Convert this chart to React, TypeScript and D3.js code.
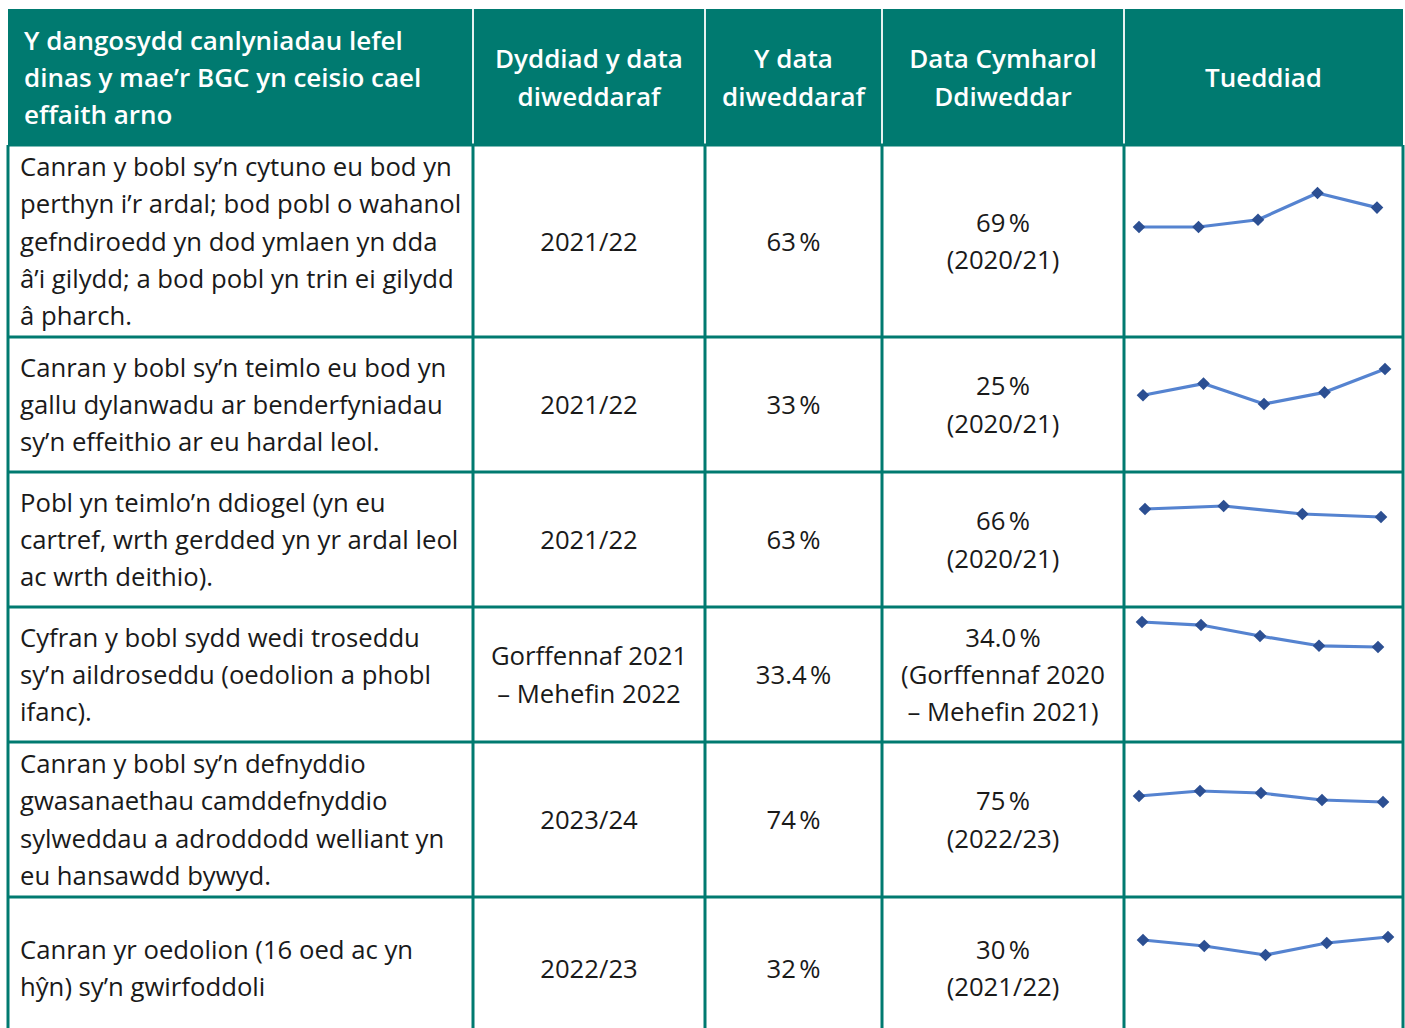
import React, { useEffect, useRef } from "react";
import * as d3 from "d3";

// table content
const headers = [
  ["Y dangosydd canlyniadau lefel", "dinas y mae’r BGC yn ceisio cael", "effaith arno"],
  ["Dyddiad y data", "diweddaraf"],
  ["Y data", "diweddaraf"],
  ["Data Cymharol", "Ddiweddar"],
  ["Tueddiad"],
];

const indicators = [
  [
    "Canran y bobl sy’n cytuno eu bod yn",
    "perthyn i’r ardal; bod pobl o wahanol",
    "gefndiroedd yn dod ymlaen yn dda",
    "â’i gilydd; a bod pobl yn trin ei gilydd",
    "â pharch.",
  ],
  [
    "Canran y bobl sy’n teimlo eu bod yn",
    "gallu dylanwadu ar benderfyniadau",
    "sy’n effeithio ar eu hardal leol.",
  ],
  [
    "Pobl yn teimlo’n ddiogel (yn eu",
    "cartref, wrth gerdded yn yr ardal leol",
    "ac wrth deithio).",
  ],
  [
    "Cyfran y bobl sydd wedi troseddu",
    "sy’n aildroseddu (oedolion a phobl",
    "ifanc).",
  ],
  [
    "Canran y bobl sy’n defnyddio",
    "gwasanaethau camddefnyddio",
    "sylweddau a adroddodd welliant yn",
    "eu hansawdd bywyd.",
  ],
  ["Canran yr oedolion (16 oed ac yn", "hŷn) sy’n gwirfoddoli"],
];

const latestDates = [
  ["2021/22"],
  ["2021/22"],
  ["2021/22"],
  ["Gorffennaf  2021", "– Mehefin 2022"],
  ["2023/24"],
  ["2022/23"],
];

const latestValues = ["63\u202F%", "33\u202F%", "63\u202F%", "33.4\u202F%", "74\u202F%", "32\u202F%"];

const comparators = [
  ["69\u202F%", "(2020/21)"],
  ["25\u202F%", "(2020/21)"],
  ["66\u202F%", "(2020/21)"],
  ["34.0\u202F%", "(Gorffennaf 2020", "– Mehefin 2021)"],
  ["75\u202F%", "(2022/23)"],
  ["30\u202F%", "(2021/22)"],
];

// sparkline values
const trend1 = [55, 55, 58, 69, 63];
const trend2 = [24, 28, 21, 25, 33];
const trend3 = [71, 74, 66, 63];
const trend4 = [37.5, 37.0, 35.2, 33.6, 33.4];
const trend5 = [77, 79.5, 78.5, 75, 74];
const trend6 = [31, 29, 26, 30, 32];
const trends = [trend1, trend2, trend3, trend4, trend5, trend6];

// layout
const colX = [8, 473, 705, 882, 1124, 1403];
const rowY = [9, 145, 337, 472, 607, 742, 897, 1040];
// sparkline placement inside its cell: [x0, x1] and [yLow, yHigh] relative to the cell
const sparkX = [[15, 253], [19, 261], [21, 257], [18, 254], [15, 259], [19, 264]];
const sparkY = [[82, 48], [67, 32], [45, 34], [40, 15], [60, 49], [58, 40]];

const TEAL = "#007a70";
const LINE_H = 37.3;
const FONT = "'Open Sans', 'Noto Sans', sans-serif";

const App = () => {
  const svgRef = useRef(null);

  useEffect(() => {
    const svg = d3.select(svgRef.current);
    svg.selectAll("*").remove();

    // header background
    svg
      .append("rect")
      .attr("x", colX[0])
      .attr("y", rowY[0])
      .attr("width", colX[5] - colX[0])
      .attr("height", rowY[1] - rowY[0])
      .attr("fill", TEAL);

    // header separators (light)
    colX.slice(1, 5).forEach((x) => {
      svg
        .append("line")
        .attr("x1", x)
        .attr("x2", x)
        .attr("y1", rowY[0])
        .attr("y2", rowY[1])
        .attr("stroke", "#e6f2f0")
        .attr("stroke-width", 2);
    });

    // body grid lines
    const grid = svg.append("g").attr("stroke", TEAL).attr("stroke-width", 3);
    rowY.slice(1, 7).forEach((y) => {
      grid.append("line").attr("x1", colX[0]).attr("x2", colX[5]).attr("y1", y).attr("y2", y);
    });
    colX.forEach((x) => {
      grid.append("line").attr("x1", x).attr("x2", x).attr("y1", rowY[1]).attr("y2", rowY[7]);
    });

    // helper for multi-line text, vertically centred in a cell
    const drawLines = (lines, x, yTop, yBottom, anchor, color, weight, size) => {
      const cy = (yTop + yBottom) / 2;
      const start = cy - ((lines.length - 1) * LINE_H) / 2;
      const t = svg
        .append("text")
        .attr("text-anchor", anchor)
        .attr("font-family", FONT)
        .attr("font-size", size)
        .attr("font-weight", weight)
        .attr("fill", color);
      lines.forEach((l, i) => {
        t.append("tspan")
          .attr("x", x)
          .attr("y", start + i * LINE_H)
          .attr("dominant-baseline", "central")
          .text(l);
      });
    };

    // header text
    headers.forEach((lines, c) => {
      if (c === 0) {
        drawLines(lines, colX[0] + 16, rowY[0], rowY[1], "start", "#ffffff", 600, 26);
      } else {
        drawLines(lines, (colX[c] + colX[c + 1]) / 2, rowY[0], rowY[1], "middle", "#ffffff", 600, 26);
      }
    });

    // body rows
    indicators.forEach((lines, r) => {
      const y0 = rowY[r + 1];
      const y1 = rowY[r + 2];
      const yb = r === 5 ? 1039 : y1;
      const ink = "#1a1a1a";
      drawLines(lines, colX[0] + 12, y0, yb, "start", ink, 400, 25.7);
      drawLines(latestDates[r], (colX[1] + colX[2]) / 2, y0, yb, "middle", ink, 400, 25.7);
      drawLines([latestValues[r]], (colX[2] + colX[3]) / 2, y0, yb, "middle", ink, 400, 25.7);
      drawLines(comparators[r], (colX[3] + colX[4]) / 2, y0, yb, "middle", ink, 400, 25.7);

      // sparkline
      const values = trends[r];
      const x = d3
        .scalePoint()
        .domain(values.map((d, i) => String(i)))
        .range([colX[4] + sparkX[r][0], colX[4] + sparkX[r][1]]);
      const y = d3
        .scaleLinear()
        .domain(d3.extent(values))
        .range([y0 + sparkY[r][0], y0 + sparkY[r][1]]);

      const line = d3
        .line()
        .x((d, i) => x(String(i)))
        .y((d) => y(d));

      const g = svg.append("g");
      g.append("path")
        .datum(values)
        .attr("d", line)
        .attr("fill", "none")
        .attr("stroke", "#5583d0")
        .attr("stroke-width", 3.2)
        .attr("stroke-linejoin", "round");

      g.selectAll(".marker")
        .data(values)
        .join("path")
        .attr("class", "marker")
        .attr("d", d3.symbol(d3.symbolSquare, 80))
        .attr("transform", (d, i) => `translate(${x(String(i))},${y(d)}) rotate(45)`)
        .attr("fill", "#2c4f92");
    });
  }, []);

  return (
    <svg
      ref={svgRef}
      width={1405}
      height={1028}
      style={{ position: "absolute", left: 0, top: 0, background: "#ffffff" }}
    ></svg>
  );
};

export default App;
